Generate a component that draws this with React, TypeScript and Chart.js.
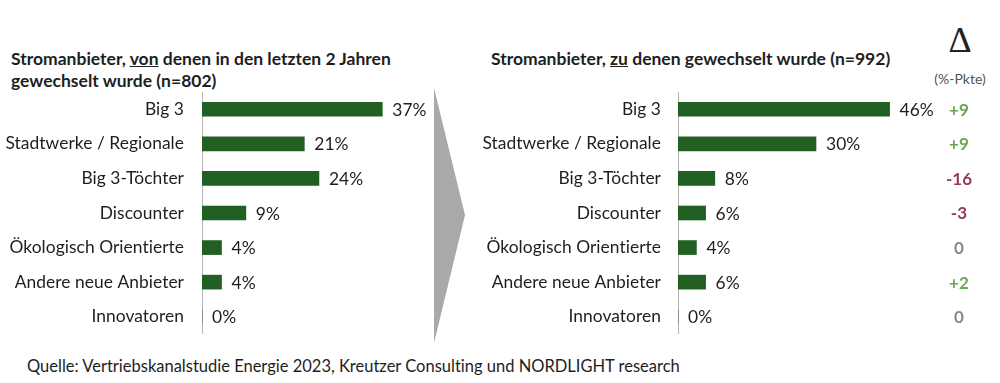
import React, { useEffect, useRef } from "react";
import { Chart, registerables } from "chart.js";
Chart.register(...registerables);

const categories = [
  "Big 3",
  "Stadtwerke / Regionale",
  "Big 3-Töchter",
  "Discounter",
  "Ökologisch Orientierte",
  "Andere neue Anbieter",
  "Innovatoren",
];
const fromValues = [37, 21, 24, 9, 4, 4, 0];
const toValues = [46, 30, 8, 6, 4, 6, 0];
const deltaValues = [9, 9, -16, -3, 0, 2, 0];
const deltaLabels = deltaValues.map((d) => (d > 0 ? `+${d}` : `${d}`));

const FAMILY = "Lato, 'Open Sans', sans-serif";
const TEXT = "#1e1e1e";
const BAR = "#215f22";
const GREEN = "#6aa84f";
const RED = "#953a4f";
const GRAY = "#8a8a8a";
const LABEL_SIZE = 17.4;

const noLigatures = {
  id: "noLigatures",
  beforeDraw(chart: any) {
    try {
      (chart.ctx as any).letterSpacing = "0.05px";
    } catch (e) {}
  },
};

const valueLabels = {
  id: "valueLabels",
  afterDatasetsDraw(chart: any) {
    const ctx = chart.ctx;
    const meta = chart.getDatasetMeta(0);
    const data = chart.data.datasets[0].data;
    ctx.save();
    ctx.font = `${LABEL_SIZE}px ${FAMILY}`;
    ctx.fillStyle = TEXT;
    ctx.textBaseline = "middle";
    ctx.textAlign = "left";
    meta.data.forEach((el: any, i: number) => {
      ctx.fillText(`${data[i]}%`, el.x + 10, el.y + 1);
    });
    ctx.restore();
  },
};

const deltaColumn = {
  id: "deltaColumn",
  afterDraw(chart: any) {
    const ctx = chart.ctx;
    const y = chart.scales.y;
    ctx.save();
    ctx.font = `bold 17px ${FAMILY}`;
    ctx.textBaseline = "middle";
    ctx.textAlign = "center";
    deltaValues.forEach((d, i) => {
      ctx.fillStyle = d > 0 ? GREEN : d < 0 ? RED : GRAY;
      ctx.fillText(deltaLabels[i], 489, y.getPixelForValue(i) + 1);
    });
    ctx.restore();
  },
};

function makeConfig(values: number[], axisWidth: number, pad: number, max: number, plugins: any[]) {
  return {
    type: "bar" as const,
    data: {
      labels: categories,
      datasets: [
        {
          data: values,
          backgroundColor: BAR,
          borderWidth: 0,
          barThickness: 14,
        },
      ],
    },
    options: {
      indexAxis: "y" as const,
      animation: false as const,
      responsive: false,
      maintainAspectRatio: false,
      layout: { padding: 0 },
      plugins: { legend: { display: false }, tooltip: { enabled: false } },
      scales: {
        x: { display: false, min: 0, max },
        y: {
          afterFit(s: any) {
            s.width = axisWidth;
            s.paddingTop = 0;
            s.paddingBottom = 0;
          },
          grid: { display: false, drawTicks: false },
          border: { display: true, color: "#b5b5b5", dash: [3, 3], width: 1 },
          ticks: { padding: pad, color: TEXT, font: { family: FAMILY, size: LABEL_SIZE } },
        },
      },
    },
    plugins: [noLigatures, ...plugins],
  };
}

export default function App() {
  const leftRef = useRef<HTMLCanvasElement>(null);
  const rightRef = useRef<HTMLCanvasElement>(null);

  useEffect(() => {
    document.body.style.margin = "0";
    const c1 = new Chart(leftRef.current!, makeConfig(fromValues, 202, 18, 55, [valueLabels]) as any);
    const c2 = new Chart(rightRef.current!, makeConfig(toValues, 208, 17, 70, [valueLabels, deltaColumn]) as any);
    return () => {
      c1.destroy();
      c2.destroy();
    };
  }, []);

  const titleStyle: React.CSSProperties = {
    position: "absolute",
    fontFamily: FAMILY,
    fontWeight: 700,
    fontSize: 17.5,
    lineHeight: "22px",
    color: TEXT,
    whiteSpace: "nowrap",
    fontVariantLigatures: "none",
  };

  return (
    <div style={{ position: "absolute", left: 0, top: 0, width: 1000, height: 383, background: "#fff", overflow: "hidden" }}>
      <div style={{ ...titleStyle, left: 11, top: 48 }}>
        Stromanbieter, <u>von</u> denen in den letzten 2 Jahren
        <br />
        gewechselt wurde (n=802)
      </div>
      <div style={{ ...titleStyle, left: 491, top: 48 }}>
        Stromanbieter, <u>zu</u> denen gewechselt wurde (n=992)
      </div>
      <div
        style={{
          position: "absolute",
          left: 910,
          width: 100,
          top: 18,
          textAlign: "center",
          fontFamily: "'Liberation Serif', 'DejaVu Serif', serif",
          fontSize: 36,
          lineHeight: "44px",
          color: "#222",
        }}
      >
        Δ
      </div>
      <div
        style={{
          position: "absolute",
          left: 910,
          width: 100,
          top: 70,
          textAlign: "center",
          fontFamily: FAMILY,
          fontSize: 14,
          lineHeight: "18px",
          color: "#555",
        }}
      >
        (%-Pkte)
      </div>
      <svg style={{ position: "absolute", left: 0, top: 0 }} width={1000} height={383}>
        <polygon points="434,88 465,215 434,343" fill="#a9a9a9" />
      </svg>
      <canvas ref={leftRef} width={470} height={242} style={{ position: "absolute", left: 0, top: 92, width: 470, height: 242 }} />
      <canvas ref={rightRef} width={530} height={242} style={{ position: "absolute", left: 470, top: 92, width: 530, height: 242 }} />
      <div
        style={{
          position: "absolute",
          left: 27,
          top: 356,
          fontFamily: FAMILY,
          fontSize: 16.5,
          lineHeight: "20px",
          color: TEXT,
          whiteSpace: "nowrap",
          fontVariantLigatures: "none",
        }}
      >
        Quelle: Vertriebskanalstudie Energie 2023, Kreutzer Consulting und NORDLIGHT research
      </div>
    </div>
  );
}
